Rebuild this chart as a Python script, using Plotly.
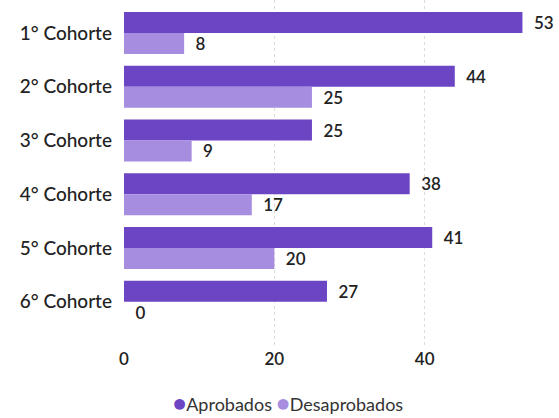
import plotly.graph_objects as go

categories = ["1° Cohorte", "2° Cohorte", "3° Cohorte", "4° Cohorte", "5° Cohorte", "6° Cohorte"]
aprobados = [53, 44, 25, 38, 41, 27]
desaprobados = [8, 25, 9, 17, 20, 0]
series_names = ["Aprobados", "Desaprobados"]
colors = ["#6c45c4", "#a68ddf"]
x_ticks = [0, 20, 40]

FONT = "Lato"
fig = go.Figure()
for name, vals, col in zip(series_names, [aprobados, desaprobados], colors):
    fig.add_trace(go.Bar(
        y=categories, x=vals, name=name, orientation="h",
        marker=dict(color=col, line=dict(width=0)),
        text=vals, texttemplate="  %{x}", textposition="outside", cliponaxis=False,
        textfont=dict(family=FONT, size=17, color="#222222", weight=600),
        showlegend=False,
    ))

legend_text = " ".join(
    f'<span style="color:{c};font-size:22px">●</span>{n}'
    for n, c in zip(series_names, colors)
)
fig.add_annotation(
    text=legend_text, xref="paper", yref="paper", x=0.39, y=-0.16,
    xanchor="center", yanchor="middle", showarrow=False,
    font=dict(family=FONT, size=18, color="#333333"),
)

fig.update_layout(
    width=559, height=418,
    margin=dict(l=124, r=14, t=0, b=71),
    barmode="group", bargap=0.22, bargroupgap=0,
    plot_bgcolor="white", paper_bgcolor="white",
    font=dict(family=FONT, size=17, color="#222222"),
    showlegend=False,
    xaxis=dict(range=[0, 56], tickvals=x_ticks, showgrid=True, automargin=False,
               gridcolor="#dddddd", griddash="dot", gridwidth=1,
               zeroline=False, showline=False,
               tickfont=dict(family=FONT, size=17, color="#222222", weight=600)),
    yaxis=dict(type="category", categoryorder="array", categoryarray=categories,
               range=[5.84, -0.613], showgrid=False, zeroline=False, showline=False,
               automargin=False, ticklabelstandoff=11,
               tickfont=dict(family=FONT, size=19, color="#222222", weight=500)),
)

fig.write_html("out.html", config={"displayModeBar": False},
               post_script="document.body.style.margin='0';document.body.style.overflow='hidden';")
